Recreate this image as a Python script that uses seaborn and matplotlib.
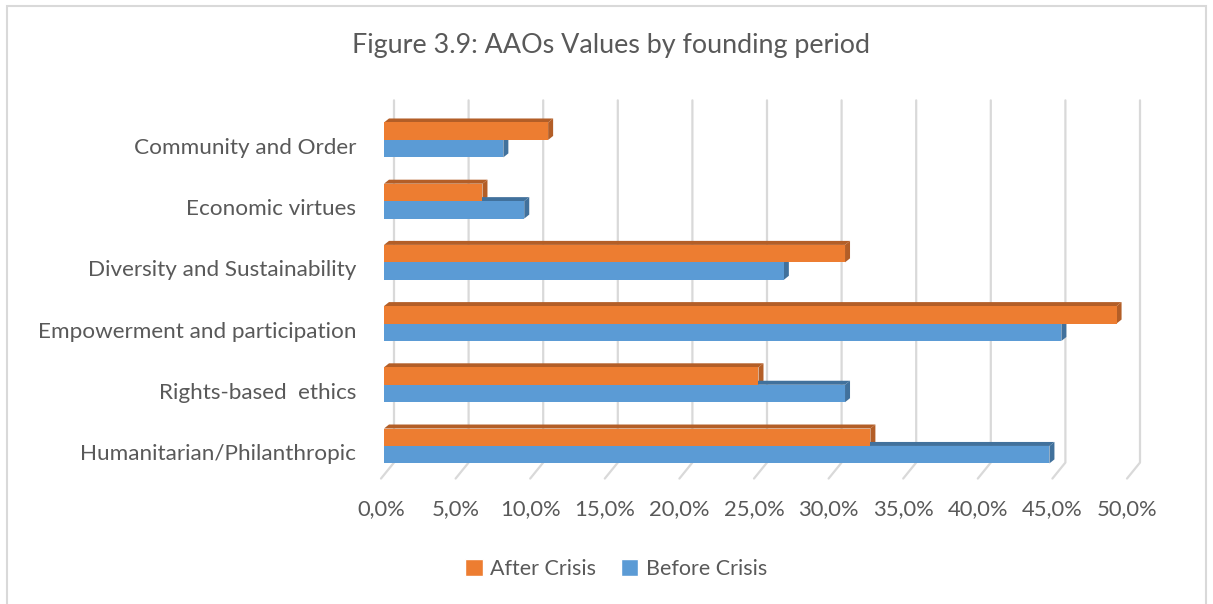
import matplotlib
matplotlib.use("Agg")
import pandas as pd
import seaborn as sns
import matplotlib.pyplot as plt
from matplotlib.patches import Polygon, Patch, Rectangle
from matplotlib.lines import Line2D
from matplotlib.ticker import FuncFormatter
from matplotlib.transforms import ScaledTranslation, IdentityTransform

categories = ["Community and Order", "Economic virtues", "Diversity and Sustainability",
              "Empowerment and participation", "Rights-based  ethics", "Humanitarian/Philanthropic"]
after_crisis = [11.0, 6.6, 30.9, 49.1, 25.1, 32.6]
before_crisis = [8.0, 9.4, 26.8, 45.4, 30.9, 44.6]
series = ["After Crisis", "Before Crisis"]
x_ticks = [0, 5, 10, 15, 20, 25, 30, 35, 40, 45, 50]

orange, blue = "#ED7D31", "#5B9BD5"
orange_dark, blue_dark = "#B35E27", "#41719C"
grid_col = "#D9D9D9"
text_col = "#595959"

df = pd.DataFrame({
    "category": categories * 2,
    "period": [series[0]] * len(categories) + [series[1]] * len(categories),
    "value": after_crisis + before_crisis,
})

sns.set_theme(style="white")
plt.rcParams["font.family"] = ["Lato", "DejaVu Sans"]

W, H = 1213, 604
fig = plt.figure(figsize=(W / 100, H / 100), dpi=100)
ax = fig.add_axes([381 / W, 0.211, 746 / W, 0.608])

sns.barplot(data=df, y="category", x="value", hue="period", order=categories,
            hue_order=series, palette=[orange, blue], width=0.57, gap=0,
            saturation=1, errorbar=None, orient="h", legend=False, ax=ax,
            linewidth=0, zorder=2)

ax.set_xlim(0, 50)
ax.set_xticks(x_ticks)
ax.xaxis.set_major_formatter(FuncFormatter(lambda v, p: f"{v:.1f}%".replace(".", ",")))
ax.set_xlabel("")
ax.set_ylabel("")
for s in ax.spines.values():
    s.set_visible(False)
ax.tick_params(axis="x", length=0, pad=16, labelsize=15.8, labelcolor=text_col)
ax.tick_params(axis="y", length=0, pad=18, labelsize=16.2, labelcolor=text_col)

# labels sit a little lower than the bar pairs in the 3D view
label_shift = ScaledTranslation(0, -6 / 100, fig.dpi_scale_trans)
for lab in ax.get_yticklabels():
    lab.set_transform(lab.get_transform() + label_shift)

# 3D look: shift bars a bit and add darker top / right faces
shift = ScaledTranslation(3 / 100, 0, fig.dpi_scale_trans)
dx, dy = 5, 4
for container, dark in zip(ax.containers, [orange_dark, blue_dark]):
    for bar in container:
        bar.set_transform(ax.transData + shift)
        x0, y0, w, h = bar.get_x(), bar.get_y(), bar.get_width(), bar.get_height()
        (ax0, ay0), (ax1, ay1) = (ax.transData + shift).transform([(x0, y0), (x0 + w, y0 + h)])
        top, bot = max(ay0, ay1), min(ay0, ay1)
        top_face = Polygon([(ax0, top), (ax1, top), (ax1 + dx, top + dy), (ax0 + dx, top + dy)],
                           closed=True, facecolor=dark, edgecolor="none",
                           transform=IdentityTransform(), zorder=1.5, clip_on=False)
        side_face = Polygon([(ax1, top), (ax1 + dx, top + dy), (ax1 + dx, bot + dy), (ax1, bot)],
                            closed=True, facecolor=dark, edgecolor="none",
                            transform=IdentityTransform(), zorder=1.5, clip_on=False)
        ax.add_artist(top_face)
        ax.add_artist(side_face)

# gridlines on the back wall with a little floor segment
bb = ax.bbox
for v in x_ticks:
    xf = ax.transData.transform((v, 0))[0]
    ln = Line2D([xf + 13, xf + 13, xf], [bb.y1 + 9, bb.y0 + 14, bb.y0 - 2],
                color=grid_col, lw=1.6, transform=IdentityTransform(), zorder=0.5,
                clip_on=False)
    ax.add_artist(ln)

fig.text(0.504, 0.925, "Figure 3.9: AAOs Values by founding period", ha="center",
         va="center", fontsize=19.4, color=text_col)

handles = [Patch(facecolor=orange), Patch(facecolor=blue)]
fig.legend(handles, series, loc="center", bbox_to_anchor=(0.508, 0.058), ncol=2,
           frameon=False, handlelength=0.8, handleheight=0.8, handletextpad=0.35,
           columnspacing=1.15, fontsize=15.5, labelcolor=text_col)

fig.patches.append(Rectangle((7 / W, -0.05), (1206 - 7) / W, 1.05 - 6 / H,
                             transform=fig.transFigure, fill=False,
                             edgecolor=grid_col, lw=1.5))

fig.savefig("out.png", dpi=100)
